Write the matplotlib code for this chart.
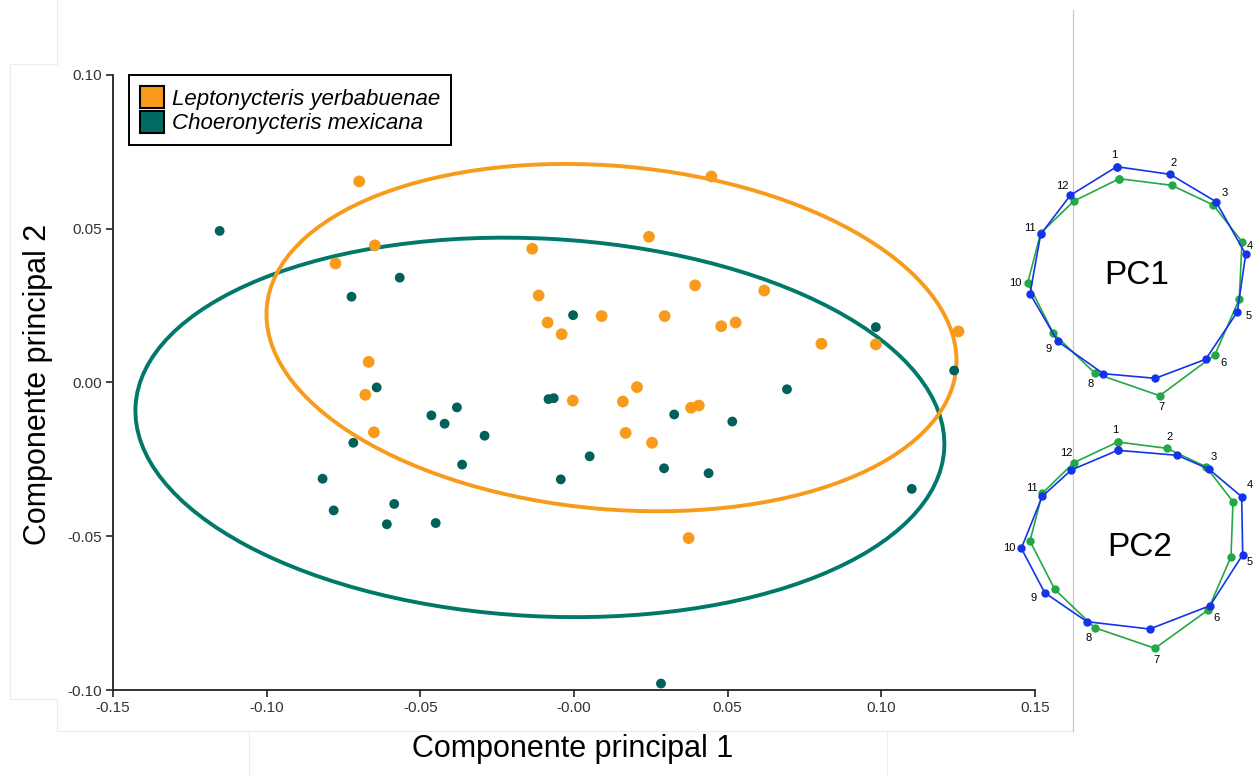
import numpy as np
import matplotlib.pyplot as plt
from matplotlib.patches import Ellipse, Patch
from matplotlib.lines import Line2D

plt.rcParams['font.family'] = ['Liberation Sans', 'DejaVu Sans']

# ---- data -------------------------------------------------------------
species = ['Leptonycteris yerbabuenae', 'Choeronycteris mexicana']
point_colors = ['#f89b1c', '#00605a']
ellipse_colors = ['#f89b1c', '#00796a']

lepto_pc1 = [-0.0699, -0.0648, -0.0776, 0.0447, -0.0136, 0.0244, -0.0115, -0.0086,
             -0.0040, 0.0090, 0.0295, 0.0394, 0.0619, 0.0479, 0.0526, 0.0805,
             0.0982, 0.1251, -0.0668, -0.0679, -0.0651, -0.0004, 0.0159, 0.0205,
             0.0381, 0.0406, 0.0168, 0.0254, 0.0373]
lepto_pc2 = [0.0654, 0.0446, 0.0387, 0.0670, 0.0435, 0.0474, 0.0283, 0.0195,
             0.0157, 0.0216, 0.0216, 0.0316, 0.0299, 0.0183, 0.0195, 0.0126,
             0.0124, 0.0166, 0.0067, -0.0040, -0.0162, -0.0059, -0.0062, -0.0015,
             -0.0082, -0.0075, -0.0164, -0.0196, -0.0506]

choero_pc1 = [-0.1153, -0.0567, -0.0724, -0.0642, -0.0083, -0.0066, -0.0003, -0.0464,
              -0.0421, -0.0381, -0.0291, -0.0718, -0.0364, 0.0051, 0.0326, 0.0515,
              0.0293, 0.0438, -0.0043, -0.0818, -0.0782, -0.0585, -0.0609, -0.0450,
              0.1099, 0.0283, 0.0982, 0.1237, 0.0693]
choero_pc2 = [0.0493, 0.0341, 0.0279, -0.0016, -0.0054, -0.0051, 0.0219, -0.0107,
              -0.0134, -0.0081, -0.0173, -0.0196, -0.0267, -0.0240, -0.0104, -0.0127,
              -0.0279, -0.0295, -0.0315, -0.0313, -0.0416, -0.0395, -0.0461, -0.0457,
              -0.0346, -0.0979, 0.0180, 0.0039, -0.0022]

# confidence ellipses: centre x, centre y, width, height, angle (deg)
lepto_ellipse = (0.0122, 0.0146, 0.2252, 0.1116, -5.1)
choero_ellipse = (-0.0111, -0.0146, 0.2635, 0.1228, -3.0)

xticks = [-0.15, -0.10, -0.05, 0.0, 0.05, 0.10, 0.15]
xticklabels = ['-0.15', '-0.10', '-0.05', '-0.00', '0.05', '0.10', '0.15']
yticks = [-0.10, -0.05, 0.0, 0.05, 0.10]
yticklabels = ['-0.10', '-0.05', '0.00', '0.05', '0.10']

# landmark shapes (12 landmarks), blue = one extreme, green = other
landmarks = [str(i) for i in range(1, 13)]
pc1_blue_x = [-0.203, 0.330, 0.790, 1.087, 1.003, 0.687, 0.183, -0.337, -0.793, -1.070, -0.963, -0.667]
pc1_blue_y = [1.093, 1.017, 0.743, 0.217, -0.360, -0.833, -1.023, -0.977, -0.653, -0.177, 0.417, 0.807]
pc1_green_x = [-0.177, 0.347, 0.763, 1.050, 1.023, 0.780, 0.227, -0.420, -0.837, -1.093, -0.963, -0.630]
pc1_green_y = [0.973, 0.907, 0.710, 0.343, -0.230, -0.787, -1.197, -0.973, -0.573, -0.067, 0.430, 0.750]

pc2_blue_x = [-0.223, 0.373, 0.687, 1.017, 1.027, 0.700, 0.097, -0.530, -0.953, -1.187, -0.977, -0.687]
pc2_blue_y = [0.967, 0.917, 0.780, 0.503, -0.077, -0.587, -0.820, -0.747, -0.457, -0.013, 0.507, 0.770]
pc2_green_x = [-0.223, 0.267, 0.660, 0.930, 0.910, 0.680, 0.150, -0.453, -0.853, -1.100, -0.977, -0.663]
pc2_green_y = [1.050, 0.987, 0.803, 0.453, -0.097, -0.630, -1.013, -0.807, -0.423, 0.060, 0.537, 0.843]

BLUE = '#1433ea'
GREEN = '#22a846'

W, H = 1254, 776
fig = plt.figure(figsize=(W / 100, H / 100), dpi=100)


def px_rect(x0, y0, x1, y1):
    # pixel box (top-left origin) -> figure fraction rect
    return [x0 / W, 1 - y1 / H, (x1 - x0) / W, (y1 - y0) / H]


# faint frame lines left over from the composed figure
frame_lines = [((57, 0), (57, 64)), ((10, 64), (57, 64)), ((10, 64), (10, 699)),
               ((10, 699), (57, 699)), ((57, 699), (57, 731)), ((57, 731), (1073, 731)),
               ((249, 731), (249, 776)), ((887, 731), (887, 776))]
for (xa, ya), (xb, yb) in frame_lines:
    fig.add_artist(Line2D([xa / W, xb / W], [1 - ya / H, 1 - yb / H],
                          transform=fig.transFigure, color='#ececec', lw=0.8, zorder=-2))
fig.add_artist(Line2D([1073 / W, 1073 / W], [1 - 10 / H, 1 - 731 / H],
                      transform=fig.transFigure, color='#c8c8c8', lw=0.9, zorder=-2))

# ---- main scatter -----------------------------------------------------
ax = fig.add_axes(px_rect(113, 75, 1035, 690))
ax.patch.set_alpha(0)

for (cx, cy, w, h, ang), c in [(choero_ellipse, ellipse_colors[1]), (lepto_ellipse, ellipse_colors[0])]:
    ax.add_patch(Ellipse((cx, cy), w, h, angle=ang, fill=False, edgecolor=c, lw=2.8, zorder=2))

ax.scatter(choero_pc1, choero_pc2, s=50, color=point_colors[1], edgecolors='none', zorder=3)
ax.scatter(lepto_pc1, lepto_pc2, s=72, color=point_colors[0], edgecolors='none', zorder=3)

ax.set_xlim(-0.15, 0.15)
ax.set_ylim(-0.10, 0.10)
ax.set_xticks(xticks)
ax.set_xticklabels(xticklabels)
ax.set_yticks(yticks)
ax.set_yticklabels(yticklabels)
for s in ['top', 'right']:
    ax.spines[s].set_visible(False)
for s in ['left', 'bottom']:
    ax.spines[s].set_linewidth(1.3)
    ax.spines[s].set_color('#222222')
ax.tick_params(direction='out', length=5, width=1.2, color='#222222',
               labelsize=11, labelcolor='#333333', pad=3)

ax.set_xlabel('Componente principal 1', fontsize=22)
ax.set_ylabel('Componente principal 2', fontsize=22)
ax.xaxis.set_label_coords(0.498, -0.072)
ax.yaxis.set_label_coords(-0.065, 0.497)

handles = [Patch(facecolor=point_colors[0], edgecolor='black', lw=1.5),
           Patch(facecolor='#006b63', edgecolor='black', lw=1.5)]
leg = ax.legend(handles, species, loc='upper left', bbox_to_anchor=(0.017, 1.0),
                borderaxespad=0, prop={'size': 16, 'style': 'italic'},
                handlelength=1.1, handleheight=1.15, handletextpad=0.35,
                labelspacing=0.05, borderpad=0.5, fancybox=False,
                framealpha=1, edgecolor='black')
leg.get_frame().set_linewidth(1.4)


# ---- landmark shape insets --------------------------------------------
def shape_inset(box, centre, bx, by, gx, gy, name):
    x0, y0, x1, y1 = box
    cxp, cyp = centre
    a = fig.add_axes(px_rect(x0, y0, x1, y1))
    a.set_xlim((x0 - cxp) / 100, (x1 - cxp) / 100)
    a.set_ylim((cyp - y1) / 100, (cyp - y0) / 100)
    a.axis('off')
    a.plot(gx + gx[:1], gy + gy[:1], color=GREEN, lw=1.2, marker='o', ms=5, zorder=2)
    a.plot(bx + bx[:1], by + by[:1], color=BLUE, lw=1.2, marker='o', ms=5, zorder=3)
    xmax = (x1 - cxp) / 100 - 0.04
    for i, lab in enumerate(landmarks):
        rb = np.hypot(bx[i], by[i])
        rg = np.hypot(gx[i], gy[i])
        px, py, r = (bx[i], by[i], rb) if rb >= rg else (gx[i], gy[i], rg)
        tx = px + 0.12 * px / r
        ty = py + 0.12 * py / r
        if tx > xmax:
            # no room on the right edge: slide along the outline instead
            tx = xmax
            ty += 0.06 * np.sign(py)
        a.text(tx, ty, lab, fontsize=8, ha='center', va='center')
    a.text(0, 0, name, fontsize=24, ha='center', va='center')


shape_inset((1000, 140, 1254, 420), (1137, 276), pc1_blue_x, pc1_blue_y,
            pc1_green_x, pc1_green_y, 'PC1')
shape_inset((1000, 420, 1254, 690), (1140, 547), pc2_blue_x, pc2_blue_y,
            pc2_green_x, pc2_green_y, 'PC2')

fig.savefig('out.png', dpi=100)
